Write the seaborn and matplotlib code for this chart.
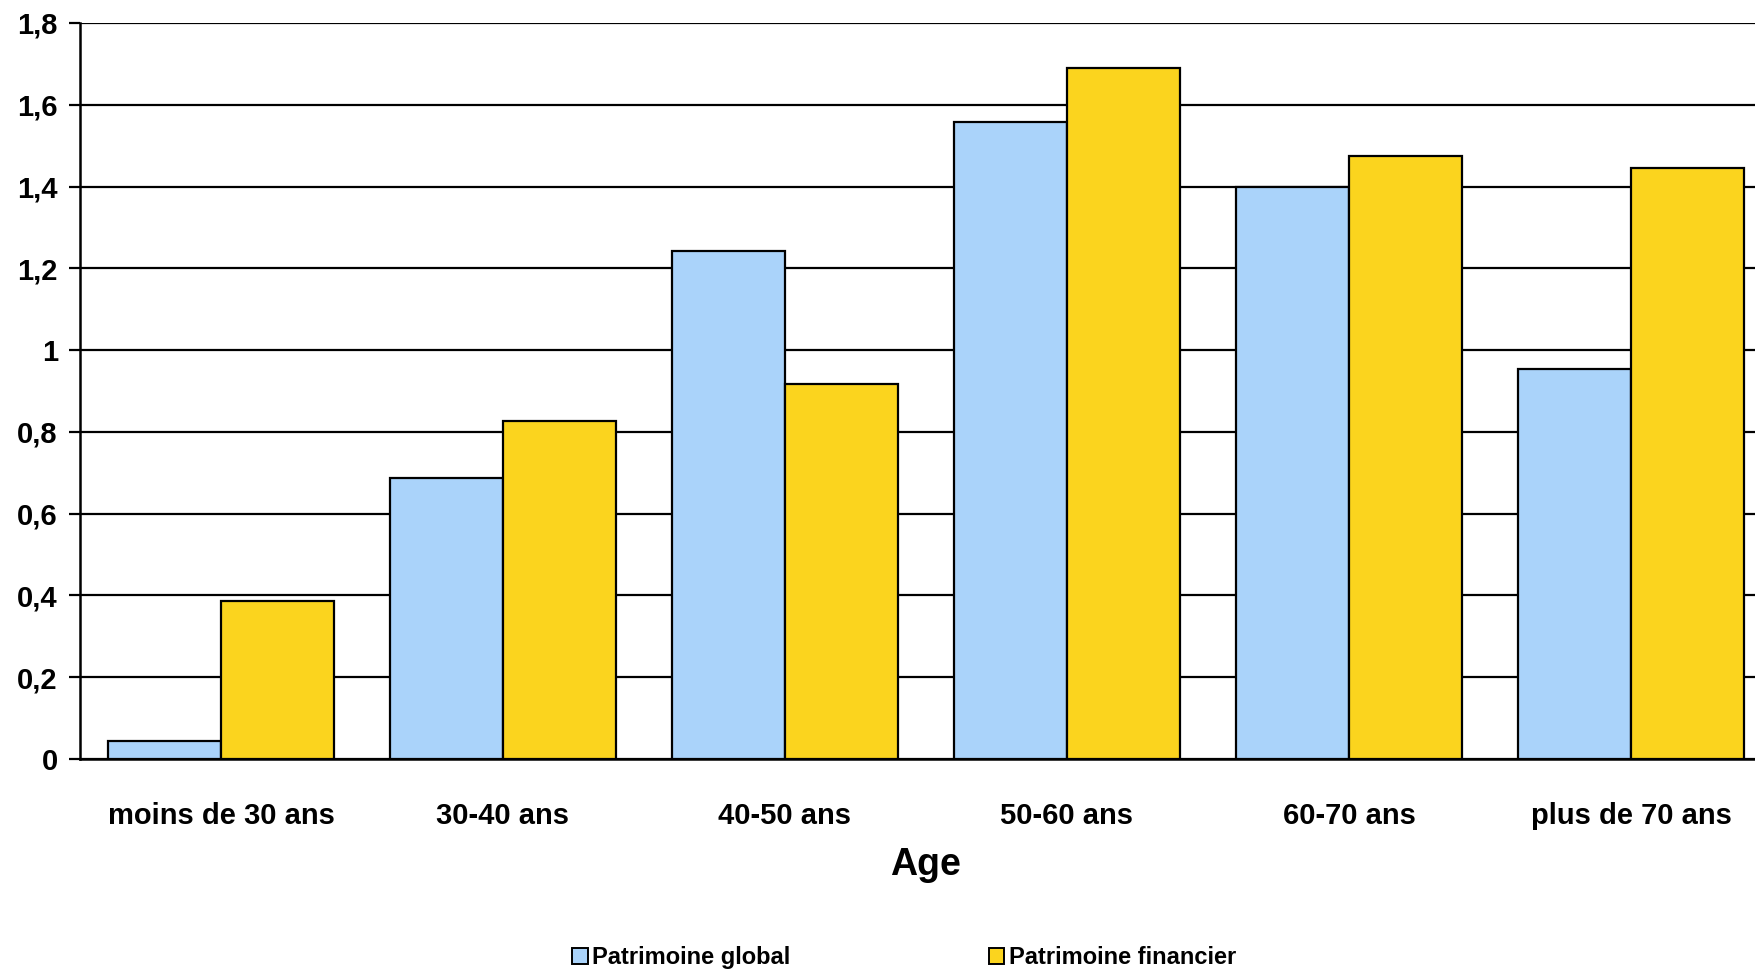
import matplotlib
matplotlib.use("Agg")
import matplotlib.pyplot as plt
from matplotlib.patches import Patch
from matplotlib.ticker import FuncFormatter, FixedLocator
import seaborn as sns
import pandas as pd

categories = ["moins de 30 ans", "30-40 ans", "40-50 ans", "50-60 ans", "60-70 ans", "plus de 70 ans"]
patrimoine_global = [0.045, 0.687, 1.242, 1.557, 1.399, 0.955]
patrimoine_financier = [0.387, 0.827, 0.917, 1.690, 1.475, 1.445]
series_names = ["Patrimoine global", "Patrimoine financier"]
y_ticks = [0, 0.2, 0.4, 0.6, 0.8, 1.0, 1.2, 1.4, 1.6, 1.8]

colors = {"Patrimoine global": "#AAD3FA", "Patrimoine financier": "#FBD41E"}

df = pd.DataFrame({
    "Age": categories * 2,
    "valeur": patrimoine_global + patrimoine_financier,
    "serie": [series_names[0]] * len(categories) + [series_names[1]] * len(categories),
})

sns.set_theme(style="white")
plt.rcParams["font.family"] = ["Liberation Sans", "DejaVu Sans"]
plt.rcParams["font.weight"] = "bold"
plt.rcParams["text.color"] = "black"

fig = plt.figure(figsize=(17.56, 9.69), dpi=100)
ax = fig.add_axes([80 / 1756, 210 / 969, 1692 / 1756, 736 / 969])

sns.barplot(data=df, x="Age", y="valeur", hue="serie", order=categories,
            hue_order=series_names, palette=colors, width=0.8,
            edgecolor="black", linewidth=1.6, saturation=1, legend=False, ax=ax,
            zorder=3)

ax.set_xlim(-0.5, len(categories) - 0.5)
ax.set_ylim(0, 1.8)
ax.yaxis.set_major_locator(FixedLocator(y_ticks))
ax.yaxis.set_major_formatter(FuncFormatter(
    lambda v, _: ("%d" % round(v)) if abs(v - round(v)) < 1e-9 else ("%.1f" % v).replace(".", ",")))
ax.grid(axis="y", color="black", linewidth=1.6, zorder=0)
ax.set_axisbelow(True)

for side in ["top", "right"]:
    ax.spines[side].set_visible(False)
for side in ["left", "bottom"]:
    ax.spines[side].set_color("black")
    ax.spines[side].set_linewidth(1.8)

ax.set_xticks([i - 0.5 for i in range(len(categories) + 1)], minor=True)
ax.tick_params(axis="x", which="major", length=0, pad=31, labelsize=21)
ax.tick_params(axis="x", which="minor", length=10, width=1.6, color="black", direction="out")
ax.tick_params(axis="y", which="major", length=8, width=1.6, color="black", direction="out",
               left=True, pad=8, labelsize=21)
for lbl in ax.get_xticklabels() + ax.get_yticklabels():
    lbl.set_fontweight("bold")
    lbl.set_color("black")

ax.set_xlabel("Age", fontsize=27, fontweight="bold", color="black", labelpad=12)
ax.set_ylabel("")

handles = [Patch(facecolor=colors[s], edgecolor="black", linewidth=1.4) for s in series_names]
leg = fig.legend(handles, series_names, loc="lower center", bbox_to_anchor=(0.515, -0.022), ncol=2,
                 frameon=False, handlelength=0.65, handleheight=0.65, handletextpad=0.2,
                 columnspacing=8.4, prop={"weight": "bold", "size": 17})
for t in leg.get_texts():
    t.set_color("black")

fig.savefig("out.png", dpi=100)
